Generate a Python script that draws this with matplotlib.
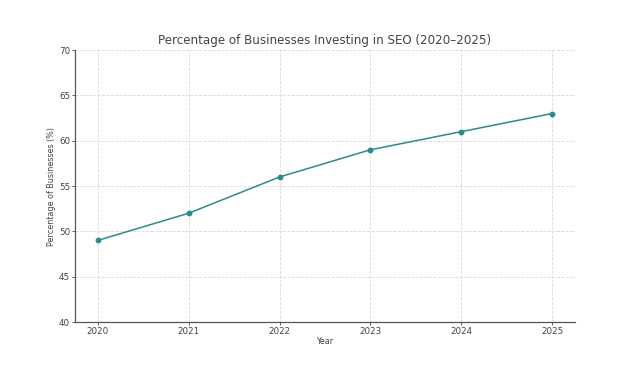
import matplotlib
matplotlib.use("Agg")
import matplotlib.pyplot as plt

years = [2020, 2021, 2022, 2023, 2024, 2025]
percent = [49, 52, 56, 59, 61, 63]
yticks = [40, 45, 50, 55, 60, 65, 70]

fig = plt.figure(figsize=(6.25, 3.82), dpi=100)
ax = fig.add_axes([0.12, 0.157, 0.80, 0.712])
ax.plot(years, percent, color="#2a8c8a", marker="o", markersize=3.2, linewidth=1.1)
ax.set_ylim(40, 70)
ax.set_yticks(yticks)
ax.set_xticks(years)
ax.set_xlim(2019.75, 2025.25)
ax.grid(True, linestyle="--", color="#d8d8d8", linewidth=0.6)
for s in ["top", "right"]:
    ax.spines[s].set_visible(False)
for s in ["left", "bottom"]:
    ax.spines[s].set_color("#555555")
    ax.spines[s].set_linewidth(0.9)
ax.tick_params(labelsize=6.3, colors="#444444", length=2, width=0.6, pad=1.5)
ax.set_title("Percentage of Businesses Investing in SEO (2020\u20132025)", fontsize=8.6, color="#3d4646", pad=4)
ax.set_xlabel("Year", fontsize=5.8, color="#444444", labelpad=1)
ax.set_ylabel("Percentage of Businesses (%)", fontsize=5.8, color="#444444", labelpad=2)
fig.savefig("out.png", dpi=100)
